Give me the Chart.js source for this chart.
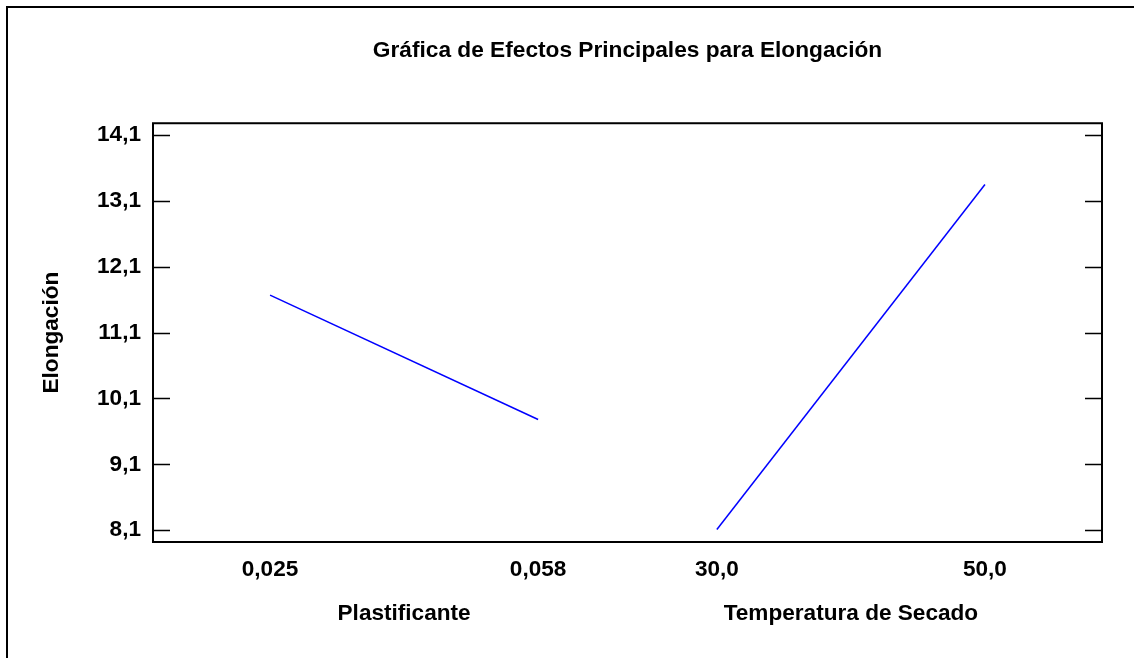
<!DOCTYPE html>
<html>
<head>
<meta charset="utf-8">
<script src="https://cdn.jsdelivr.net/npm/chart.js@4.4.1/dist/chart.umd.min.js"></script>
<style>
  body { margin: 0; background: #fff; }
  #wrap { width: 1134px; height: 658px; position: relative; }
</style>
</head>
<body>
<div id="wrap"><canvas id="myChart"></canvas></div>
<script>
// factors and their levels
const factorNames = ["Plastificante", "Temperatura de Secado"];
const plastLevels = ["0,025", "0,058"];
const tempLevels = ["30,0", "50,0"];
// mean Elongación at each level
const plastMeans = [11.67, 9.78];
const tempMeans = [8.11, 13.35];
// y tick labels
const yTicks = [8.1, 9.1, 10.1, 11.1, 12.1, 13.1, 14.1];

const gap = 2 / 3;          // space between factor panels, in level units
const edge = 0.4366;        // margin before first / after last level
const slot = (panel, i) => panel * (1 + gap) + i + 1;

const levelLabels = [plastLevels, tempLevels];
const levelTicks = [];
levelLabels.forEach((lv, p) => lv.forEach((t, i) => levelTicks.push({ value: slot(p, i), label: t })));
const factorTicks = factorNames.map((n, p) => ({ value: slot(p, 0) + 0.5, label: n }));

const blue = "rgb(0, 0, 255)";
const series = [plastMeans, tempMeans].map((means, p) => ({
  data: means.map((v, i) => ({ x: slot(p, i), y: v })),
  borderColor: blue,
  borderWidth: 1.5,
  pointRadius: 0,
  tension: 0,
  xAxisID: "x",
}));

const xMin = slot(0, 0) - edge;
const xMax = slot(1, 1) + edge;

const frame = {
  id: "frame",
  afterDatasetsDraw(chart) {
    const { ctx, chartArea: a, scales } = chart;
    ctx.save();
    ctx.strokeStyle = "#000";
    ctx.lineWidth = 2;
    ctx.strokeRect(a.left, a.top, a.right - a.left, a.bottom - a.top);
    ctx.lineWidth = 1.3;
    ctx.beginPath();
    yTicks.forEach((v) => {
      const py = Math.round(scales.y.getPixelForValue(v)) + 0.5;
      ctx.moveTo(a.left, py);
      ctx.lineTo(a.left + 17, py);
      ctx.moveTo(a.right - 17, py);
      ctx.lineTo(a.right, py);
    });
    ctx.stroke();
    // outer frame (top and left only)
    ctx.lineWidth = 2;
    ctx.beginPath();
    ctx.moveTo(7, chart.height);
    ctx.lineTo(7, 7);
    ctx.lineTo(chart.width, 7);
    ctx.stroke();
    ctx.restore();
  },
};

Chart.defaults.font.family = "'Liberation Sans', Arial, sans-serif";
Chart.defaults.font.size = 22.6;
Chart.defaults.font.weight = "bold";
Chart.defaults.color = "#000";

new Chart(document.querySelector("#myChart"), {
  type: "line",
  data: { datasets: series },
  options: {
    responsive: true,
    maintainAspectRatio: false,
    animation: false,
    layout: { padding: { left: 0, right: 32, top: 0, bottom: 0 } },
    plugins: {
      legend: { display: false },
      tooltip: { enabled: false },
      title: {
        display: true,
        text: "Gráfica de Efectos Principales para Elongación",
        fullSize: false,
        padding: { top: 37, bottom: 59 },
        font: { size: 22.7, weight: "bold" },
      },
    },
    scales: {
      x: {
        type: "linear",
        position: "bottom",
        weight: 0,
        min: xMin,
        max: xMax,
        grid: { display: false, drawTicks: false },
        border: { display: false },
        afterBuildTicks: (s) => { s.ticks = levelTicks.map((t) => ({ value: t.value })); },
        ticks: {
          autoSkip: false,
          maxRotation: 0,
          padding: 14,
          callback: (v, i) => levelTicks[i].label,
        },
        afterFit: (s) => { s.height = 44; },
      },
      x2: {
        type: "linear",
        position: "bottom",
        weight: 1,
        min: xMin,
        max: xMax,
        grid: { display: false, drawTicks: false },
        border: { display: false },
        afterBuildTicks: (s) => { s.ticks = factorTicks.map((t) => ({ value: t.value })); },
        ticks: {
          autoSkip: false,
          maxRotation: 0,
          padding: 14,
          callback: (v, i) => factorTicks[i].label,
        },
        afterFit: (s) => { s.height = 72; },
      },
      y: {
        min: 7.92,
        max: 14.28,
        grid: { display: false, drawTicks: false },
        border: { display: false },
        afterBuildTicks: (s) => { s.ticks = yTicks.map((v) => ({ value: v })); },
        ticks: {
          autoSkip: false,
          padding: 12,
          callback: (v) => v.toFixed(1).replace(".", ","),
        },
        title: {
          display: true,
          text: "Elongación",
          padding: { top: 38 },
          font: { size: 22.6, weight: "bold" },
        },
        afterFit: (s) => { s.width = 153; },
      },
    },
  },
  plugins: [frame],
});
</script>
</body>
</html>
